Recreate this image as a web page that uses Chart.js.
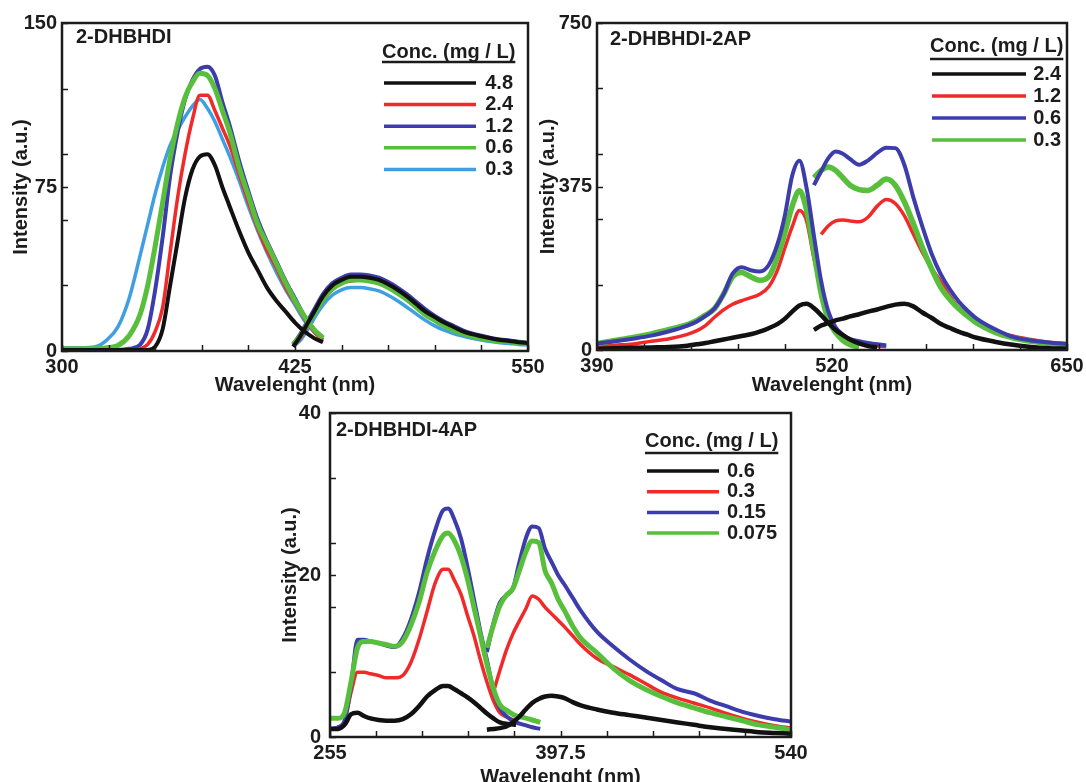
<!DOCTYPE html>
<html>
<head>
<meta charset="utf-8">
<title>Fluorescence spectra</title>
<script src="https://cdn.jsdelivr.net/npm/chart.js@4.4.1/dist/chart.umd.min.js"></script>
<style>
  html, body { margin: 0; padding: 0; background: #ffffff; }
  #wrap { position: relative; width: 1086px; height: 782px; overflow: hidden; }
  #wrap canvas { position: absolute; left: 0; top: 0; }
</style>
</head>
<body>
<div id="wrap">
  <canvas id="p1" width="1086" height="782"></canvas>
  <canvas id="p2" width="1086" height="782"></canvas>
  <canvas id="p3" width="1086" height="782"></canvas>
</div>
<script>
// ---- Panel 1: 2-DHBHDI ----
const p1Conc = ['4.8', '2.4', '1.2', '0.6', '0.3'];
const p1XLabels = [300, 425, 550];
const p1YLabels = [0, 75, 150];
const p1WlA = [300, 310, 318, 324, 330, 336, 342, 346, 350, 354, 358, 362, 366, 370, 374, 378, 382, 386, 390, 395, 400, 405, 410, 415, 420, 425, 430, 435, 440];
const p1BlackA = [0.5, 0.5, 0.5, 0.5, 0.5, 0.5, 0.5, 0.5, 2, 10, 30, 50, 70, 83, 89, 90, 85, 75, 66, 55, 45, 37, 29, 23, 18, 13, 9, 6, 4];
const p1RedA = [0.5, 0.5, 0.5, 0.5, 0.5, 0.5, 1, 3, 9, 20, 45, 70, 90, 106, 117, 117, 110, 102, 94, 81, 68, 56, 46, 38, 29, 22, 15, 9, 5];
const p1BlueA = [0.5, 0.5, 0.5, 0.5, 0.5, 1, 3, 10, 28, 52, 80, 100, 115, 124, 129, 130, 126, 114, 103, 87, 73, 60, 50, 41, 32, 24, 16, 10, 6];
const p1GreenA = [1, 1, 1, 1.5, 2.5, 7, 17, 30, 48, 68, 88, 104, 116, 123, 127, 126, 120, 110, 100, 84, 71, 58, 49, 40, 31, 23, 16, 10, 6];
const p1CyanA = [1.5, 1.5, 2, 5, 11, 24, 44, 58, 72, 84, 94, 101, 107, 112, 115, 111, 105, 97, 89, 78, 66, 55, 45, 36, 28, 21, 14, 9, 5];
const p1WlB = [424, 428, 432, 436, 440, 445, 450, 455, 460, 465, 470, 475, 480, 485, 490, 495, 500, 505, 510, 515, 520, 525, 530, 535, 540, 545, 550];
const p1BlackB = [2, 7, 13, 19, 25, 30, 32.5, 34, 34, 33.5, 32.5, 30.5, 28, 25, 21.5, 18, 15.5, 13, 11, 9, 7.7, 6.7, 5.8, 5, 4.6, 4, 3.6];
const p1RedB = [2, 6, 12, 18, 23, 28, 31, 32, 32.5, 32, 31, 29, 26.5, 23.5, 20.5, 17, 14.5, 12, 10, 8.3, 7, 6, 5.2, 4.6, 4.2, 3.8, 3.5];
const p1BlueB = [3, 8, 14, 20, 26, 31, 33.5, 35, 35, 34.5, 33.5, 31.5, 29, 26, 22.5, 19, 16, 13.5, 11.5, 9.5, 8, 7, 6, 5.3, 4.8, 4.2, 3.8];
const p1GreenB = [3, 7, 13, 18, 23.5, 28.5, 31, 32.5, 32.5, 32, 31, 29, 26.5, 23.5, 20, 16.5, 14, 11.5, 9.5, 8, 6.8, 5.8, 5, 4.5, 4.2, 3.8, 3.4];
const p1CyanB = [2, 5, 10, 16, 21, 25.5, 28, 29, 29, 28.5, 27.5, 25.5, 23, 20, 17, 14, 11.5, 9.5, 8, 6.8, 5.8, 5, 4.3, 3.8, 3.4, 3, 2.8];

// ---- Panel 2: 2-DHBHDI-2AP ----
const p2Conc = ['2.4', '1.2', '0.6', '0.3'];
const p2XLabels = [390, 520, 650];
const p2YLabels = [0, 375, 750];
const p2WlA = [390, 400, 410, 420, 430, 440, 445, 450, 455, 460, 465, 470, 475, 480, 485, 490, 494, 498, 502, 506, 510, 514, 518, 522, 526, 530, 535, 540, 545, 550];
const p2BlackA = [3, 4, 5, 6, 7, 10, 13, 16, 20, 24, 28, 32, 36, 42, 50, 60, 72, 88, 102, 106, 96, 80, 62, 46, 34, 24, 15, 9, 6, null];
const p2RedA = [8, 11, 14, 20, 26, 36, 44, 56, 75, 92, 105, 113, 120, 128, 145, 185, 235, 283, 320, 295, 210, 140, 80, 45, 28, 20, 15, 11, 9, 8];
const p2BlueA = [15, 20, 26, 33, 43, 56, 65, 78, 95, 128, 175, 190, 183, 180, 195, 245, 310, 400, 434, 370, 262, 158, 88, 52, 35, 25, 20, 16, 13, 11];
const p2GreenA = [15, 22, 29, 37, 47, 58, 67, 80, 95, 128, 168, 178, 168, 160, 168, 215, 270, 330, 365, 320, 225, 130, 70, 40, 22, 12, 7, null, null, null];
const p2WlB = [510, 514, 518, 522, 526, 530, 535, 540, 545, 550, 555, 560, 565, 570, 575, 580, 585, 590, 595, 600, 610, 620, 630, 640, 650];
const p2BlackB = [46, 56, 62, 68, 72, 77, 82, 88, 93, 99, 104, 106, 100, 86, 74, 60, 51, 42, 35, 28, 19, 12, 7, 4, 3];
const p2RedB = [null, 265, 285, 296, 298, 296, 294, 305, 330, 345, 336, 308, 266, 224, 188, 158, 125, 98, 82, 67, 45, 32, 24, 18, 14];
const p2BlueB = [378, 410, 440, 455, 450, 438, 425, 435, 452, 464, 463, 425, 350, 283, 222, 175, 140, 112, 90, 72, 48, 30, 22, 17, 14];
const p2GreenB = [395, 412, 420, 412, 395, 378, 368, 366, 378, 392, 378, 340, 290, 235, 187, 145, 117, 95, 78, 62, 41, 28, 20, 15, 12];

// ---- Panel 3: 2-DHBHDI-4AP ----
const p3Conc = ['0.6', '0.3', '0.15', '0.075'];
const p3XLabels = [255, 397.5, 540];
const p3YLabels = [0, 20, 40];
const p3WlA = [255, 260, 264, 268, 272, 276, 280, 285, 290, 295, 300, 305, 310, 315, 320, 325, 328, 332, 336, 340, 344, 348, 352, 356, 360, 365, 370, 375, 380, 385];
const p3BlackA = [1, 1, 1.5, 2.8, 3, 2.6, 2.3, 2.1, 2, 2, 2.2, 2.8, 3.8, 5, 5.8, 6.3, 6.3, 5.9, 5.4, 4.9, 4.3, 3.6, 2.9, 2.3, 1.8, 1.6, 1.5, null, null, null];
const p3RedA = [1, 1.2, 2, 5.5, 8, 8, 7.8, 7.6, 7.3, 7.3, 7.6, 9.2, 12, 15.5, 19, 20.7, 20.7, 19.3, 17.6, 15, 12.5, 9.5, 6.8, 4.5, 3, 2.4, 2, null, null, null];
const p3BlueA = [1, 1.2, 2, 6.3, 12, 12, 11.8, 11.6, 11.3, 11.1, 12.2, 14.5, 17.8, 22, 25.5, 28, 28.2, 26.8, 24.5, 21, 17, 13, 9.5, 5.8, 3.6, 2.4, 1.8, 1.5, 1.2, 1];
const p3GreenA = [2.3, 2.3, 3, 6.8, 11, 11.8, 11.8, 11.6, 11.4, 11.2, 11.8, 13.8, 16.6, 20.3, 23, 24.9, 25.2, 24.2, 22.3, 19.5, 16, 12.5, 9, 6, 4, 3.2, 2.6, 2.4, 2.1, 1.8];
const p3WlB = [352, 356, 360, 364, 368, 372, 376, 380, 384, 388, 392, 396, 400, 405, 410, 420, 430, 440, 450, 460, 470, 480, 490, 500, 510, 520, 530, 540];
const p3BlackB = [0.9, 1, 1.1, 1.3, 1.8, 2.5, 3.4, 4.2, 4.7, 5, 5.1, 5, 4.8, 4.3, 3.9, 3.4, 3, 2.7, 2.4, 2.1, 1.8, 1.5, 1.2, 1, 0.8, 0.6, 0.5, 0.4];
const p3RedB = [null, 5.5, 8.2, 10.7, 12.7, 14.3, 15.8, 17.4, 17, 16, 15.2, 14.4, 13.6, 12.5, 11.4, 9.7, 8.7, 7.7, 6.6, 5.5, 4.8, 4.2, 3.6, 2.9, 2.3, 1.8, 1.4, 1.1];
const p3BlueB = [10.5, 14, 16.6, 17.5, 18.3, 21.5, 24.5, 26, 25.8, 23.2, 21.6, 20, 18.8, 17.2, 15.6, 13, 11.2, 9.6, 8.2, 7, 5.9, 5.4, 4.5, 3.8, 3.1, 2.6, 2.2, 1.9];
const p3GreenB = [11, 13.8, 16.2, 17.5, 18.3, 20.5, 22.8, 24.2, 24, 20.5, 19, 17, 15.6, 13.7, 12.2, 10.4, 8.5, 7, 5.9, 5, 4.2, 3.6, 3, 2.5, 2, 1.5, 1.2, 0.9];

const FONT = '"Liberation Sans", Arial, sans-serif';
const INK = '#1c1c1c';
const BLACK = '#111111', RED = '#f02a2a', BLUE = '#3c3cac', GREEN = '#58bf3c', CYAN = '#3f9fe2';

function pts(xs, ys) {
  return xs.map((x, i) => ({ x: x, y: ys[i] }));
}

// frame, inward ticks, panel label, legend, axis titles
const decorPlugin = {
  id: 'panelDecor',
  afterDraw(chart, args, o) {
    const ctx = chart.ctx, a = chart.chartArea;
    const sx = chart.scales.x, sy = chart.scales.y;
    ctx.save();
    ctx.strokeStyle = INK;
    ctx.lineWidth = 1.5;
    ctx.beginPath();
    sx.ticks.forEach(t => {
      const p = Math.round(sx.getPixelForValue(t.value)) + 0.5;
      ctx.moveTo(p, a.bottom); ctx.lineTo(p, a.bottom - 6);
    });
    sy.ticks.forEach(t => {
      const p = Math.round(sy.getPixelForValue(t.value)) + 0.5;
      ctx.moveTo(a.left, p); ctx.lineTo(a.left + 6, p);
    });
    ctx.stroke();
    ctx.lineWidth = 2.5;
    ctx.strokeRect(a.left, a.top, a.right - a.left, a.bottom - a.top);

    ctx.fillStyle = INK;
    ctx.font = 'bold 20px ' + FONT;
    ctx.textBaseline = 'middle';
    ctx.textAlign = 'left';
    ctx.fillText(o.name, o.nameX, o.nameY);

    // legend
    const lg = o.legend;
    ctx.fillText('Conc. (mg / L)', lg.x, lg.headY);
    const hw = ctx.measureText('Conc. (mg / L)').width;
    ctx.lineWidth = 2.5;
    ctx.beginPath();
    ctx.moveTo(lg.x, lg.ruleY); ctx.lineTo(lg.x + hw, lg.ruleY);
    ctx.stroke();
    o.conc.forEach((c, i) => {
      const y = lg.rowY + i * lg.rowGap;
      ctx.strokeStyle = o.colors[i];
      ctx.lineWidth = 3.5;
      ctx.beginPath();
      ctx.moveTo(lg.lineX0, y); ctx.lineTo(lg.lineX1, y);
      ctx.stroke();
      ctx.textAlign = lg.align;
      ctx.fillText(c, lg.textX, y);
    });

    // axis titles
    ctx.textAlign = 'center';
    ctx.fillText('Wavelenght (nm)', (a.left + a.right) / 2, o.xTitleY);
    ctx.translate(o.yTitleX, (a.top + a.bottom) / 2);
    ctx.rotate(-Math.PI / 2);
    ctx.fillText('Intensity (a.u.)', 0, 0);
    ctx.restore();
  }
};

function makePanel(id, p) {
  const datasets = [];
  p.series.forEach(s => {
    [[p.wlA, s.a], [p.wlB, s.b]].forEach(seg => {
      datasets.push({
        data: pts(seg[0], seg[1]),
        borderColor: s.color,
        borderWidth: s.width,
        pointRadius: 0,
        fill: false,
        cubicInterpolationMode: 'monotone',
        order: s.order
      });
    });
  });
  const tickFont = { family: FONT, size: 20, weight: 'bold' };
  new Chart(document.getElementById(id), {
    type: 'line',
    data: { datasets: datasets },
    options: {
      responsive: false,
      animation: false,
      events: [],
      layout: { padding: p.pad, autoPadding: false },
      plugins: {
        legend: { display: false },
        tooltip: { enabled: false },
        panelDecor: p.decor
      },
      scales: {
        x: {
          type: 'linear',
          min: p.xLabels[0],
          max: p.xLabels[2],
          grid: { display: false, drawTicks: false },
          border: { display: false },
          afterBuildTicks: sc => {
            const step = (p.xLabels[2] - p.xLabels[0]) / 10;
            sc.ticks = Array.from({ length: 11 }, (_, i) => ({ value: p.xLabels[0] + i * step }));
          },
          afterFit: sc => { sc.height = 40; sc.paddingLeft = 0; sc.paddingRight = 0; },
          ticks: {
            autoSkip: false, maxRotation: 0, padding: 4, color: INK, font: tickFont,
            callback: v => p.xLabels.includes(v) ? String(v) : ''
          }
        },
        y: {
          min: p.yLabels[0],
          max: p.yLabels[2],
          grid: { display: false, drawTicks: false },
          border: { display: false },
          afterBuildTicks: sc => {
            const step = p.yLabels[2] / 5;
            const vals = Array.from({ length: 6 }, (_, i) => i * step);
            if (!vals.includes(p.yLabels[1])) vals.push(p.yLabels[1]);
            sc.ticks = vals.sort((m, n) => m - n).map(v => ({ value: v }));
          },
          afterFit: sc => { sc.width = 62; sc.paddingTop = 0; sc.paddingBottom = 0; },
          ticks: {
            autoSkip: false, padding: p.yPad, color: INK, font: tickFont,
            callback: v => p.yLabels.includes(v) ? String(v) : ''
          }
        }
      }
    },
    plugins: [decorPlugin]
  });
}

makePanel('p1', {
  wlA: p1WlA, wlB: p1WlB, xLabels: p1XLabels, yLabels: p1YLabels, yPad: 5,
  pad: { left: 0, right: 558, top: 23, bottom: 391 },
  series: [
    { a: p1BlackA, b: p1BlackB, color: BLACK, width: 4, order: 1 },
    { a: p1RedA, b: p1RedB, color: RED, width: 3.5, order: 3 },
    { a: p1BlueA, b: p1BlueB, color: BLUE, width: 4, order: 4 },
    { a: p1GreenA, b: p1GreenB, color: GREEN, width: 5, order: 2 },
    { a: p1CyanA, b: p1CyanB, color: CYAN, width: 3.5, order: 5 }
  ],
  decor: {
    name: '2-DHBHDI', nameX: 76, nameY: 37,
    conc: p1Conc, colors: [BLACK, RED, BLUE, GREEN, CYAN],
    legend: { x: 382, headY: 52, ruleY: 62, rowY: 83, rowGap: 21.6, lineX0: 384, lineX1: 476, textX: 513, align: 'right' },
    xTitleY: 385, yTitleX: 21
  }
});

makePanel('p2', {
  wlA: p2WlA, wlB: p2WlB, xLabels: p2XLabels, yLabels: p2YLabels, yPad: 5,
  pad: { left: 535, right: 19, top: 23, bottom: 392 },
  series: [
    { a: p2BlackA, b: p2BlackB, color: BLACK, width: 4.5, order: 1 },
    { a: p2RedA, b: p2RedB, color: RED, width: 3.5, order: 4 },
    { a: p2BlueA, b: p2BlueB, color: BLUE, width: 4, order: 2 },
    { a: p2GreenA, b: p2GreenB, color: GREEN, width: 5.5, order: 3 }
  ],
  decor: {
    name: '2-DHBHDI-2AP', nameX: 610, nameY: 39,
    conc: p2Conc, colors: [BLACK, RED, BLUE, GREEN],
    legend: { x: 930, headY: 46, ruleY: 59, rowY: 74, rowGap: 22, lineX0: 932, lineX1: 1026, textX: 1061, align: 'right' },
    xTitleY: 385, yTitleX: 548
  }
});

makePanel('p3', {
  wlA: p3WlA, wlB: p3WlB, xLabels: p3XLabels, yLabels: p3YLabels, yPad: 9,
  pad: { left: 268, right: 295, top: 413, bottom: 5 },
  series: [
    { a: p3BlackA, b: p3BlackB, color: BLACK, width: 4.5, order: 1 },
    { a: p3RedA, b: p3RedB, color: RED, width: 3.5, order: 4 },
    { a: p3BlueA, b: p3BlueB, color: BLUE, width: 4, order: 3 },
    { a: p3GreenA, b: p3GreenB, color: GREEN, width: 5, order: 2 }
  ],
  decor: {
    name: '2-DHBHDI-4AP', nameX: 336, nameY: 430,
    conc: p3Conc, colors: [BLACK, RED, BLUE, GREEN],
    legend: { x: 645, headY: 441, ruleY: 453, rowY: 471, rowGap: 20.7, lineX0: 647, lineX1: 719, textX: 727, align: 'left' },
    xTitleY: 777, yTitleX: 290
  }
});
</script>
</body>
</html>
